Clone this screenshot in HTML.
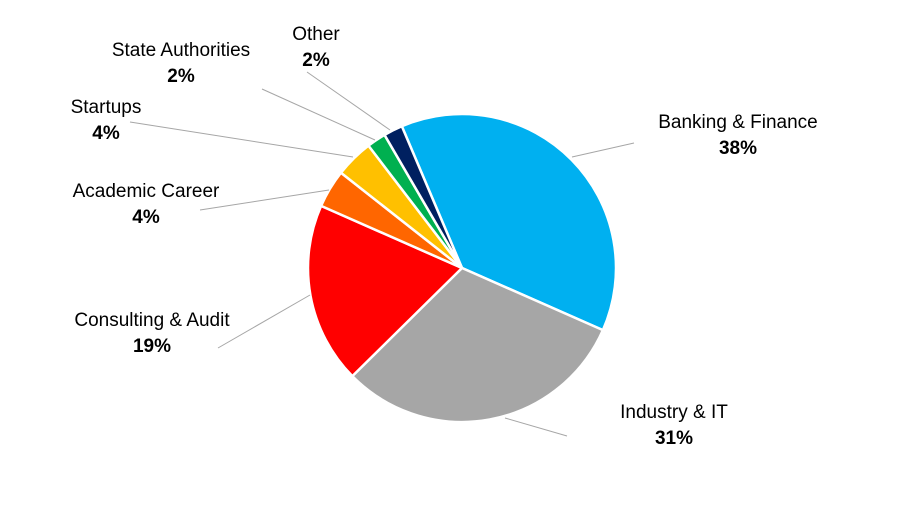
<!DOCTYPE html>
<html><head><meta charset="utf-8"><style>
body{margin:0;background:#fff}
svg text{font-family:"Liberation Sans",sans-serif;font-size:19px;fill:#000}
</style></head><body>
<svg width="900" height="516">
<g id="slices"></g>
<g id="labels"></g>
</svg>
<script>
const categories=["Banking & Finance","Industry & IT","Consulting & Audit","Academic Career","Startups","State Authorities","Other"];
const values=[38,31,19,4,4,2,2];
const colors=["#00b0f0","#a6a6a6","#ff0000","#ff6600","#ffc000","#00b050","#002060"];
const labelPos=[[738,122],[674,412],[152,320],[146,191],[106,107],[181,50],[316,34]];
const leaders=[[[634,143],[572,157]],[[567,436],[505,418]],[[218,348],[310,295]],[[200,210],[329,190]],[[130,122],[353,157]],[[262,89],[375,140]],[[307,72],[390,130]]];
const cx=462,cy=268,r=154,start=-23;
const ns="http://www.w3.org/2000/svg";
const total=values.reduce((a,b)=>a+b,0);
let a=start;
const pt=(deg)=>[cx+r*Math.sin(deg*Math.PI/180),cy-r*Math.cos(deg*Math.PI/180)];
const gs=document.getElementById('slices'),gl=document.getElementById('labels');
values.forEach((v,i)=>{
 const sweep=v/total*360;const p1=pt(a),p2=pt(a+sweep);
 const path=document.createElementNS(ns,'path');
 path.setAttribute('d',`M${cx},${cy}L${p1[0]},${p1[1]}A${r},${r} 0 ${sweep>180?1:0} 1 ${p2[0]},${p2[1]}Z`);
 path.setAttribute('fill',colors[i]);path.setAttribute('stroke','#fff');path.setAttribute('stroke-width','2.5');
 
 
 gs.appendChild(path);
 a+=sweep;
 const l=document.createElementNS(ns,'line');
 l.setAttribute('x1',leaders[i][0][0]);l.setAttribute('y1',leaders[i][0][1]);
 l.setAttribute('x2',leaders[i][1][0]);l.setAttribute('y2',leaders[i][1][1]);
 l.setAttribute('stroke','#a6a6a6');l.setAttribute('stroke-width','1');
 
 
 gl.appendChild(l);
 const t=document.createElementNS(ns,'text');
 t.setAttribute('x',labelPos[i][0]);t.setAttribute('y',labelPos[i][1]+6);t.setAttribute('text-anchor','middle');
 t.textContent=categories[i];
 
 
 gl.appendChild(t);
 const t2=document.createElementNS(ns,'text');
 t2.setAttribute('x',labelPos[i][0]);t2.setAttribute('y',labelPos[i][1]+32);t2.setAttribute('text-anchor','middle');
 t2.setAttribute('font-weight','bold');t2.textContent=v+'%';
 
 
 gl.appendChild(t2);
});
</script>
</body></html>
